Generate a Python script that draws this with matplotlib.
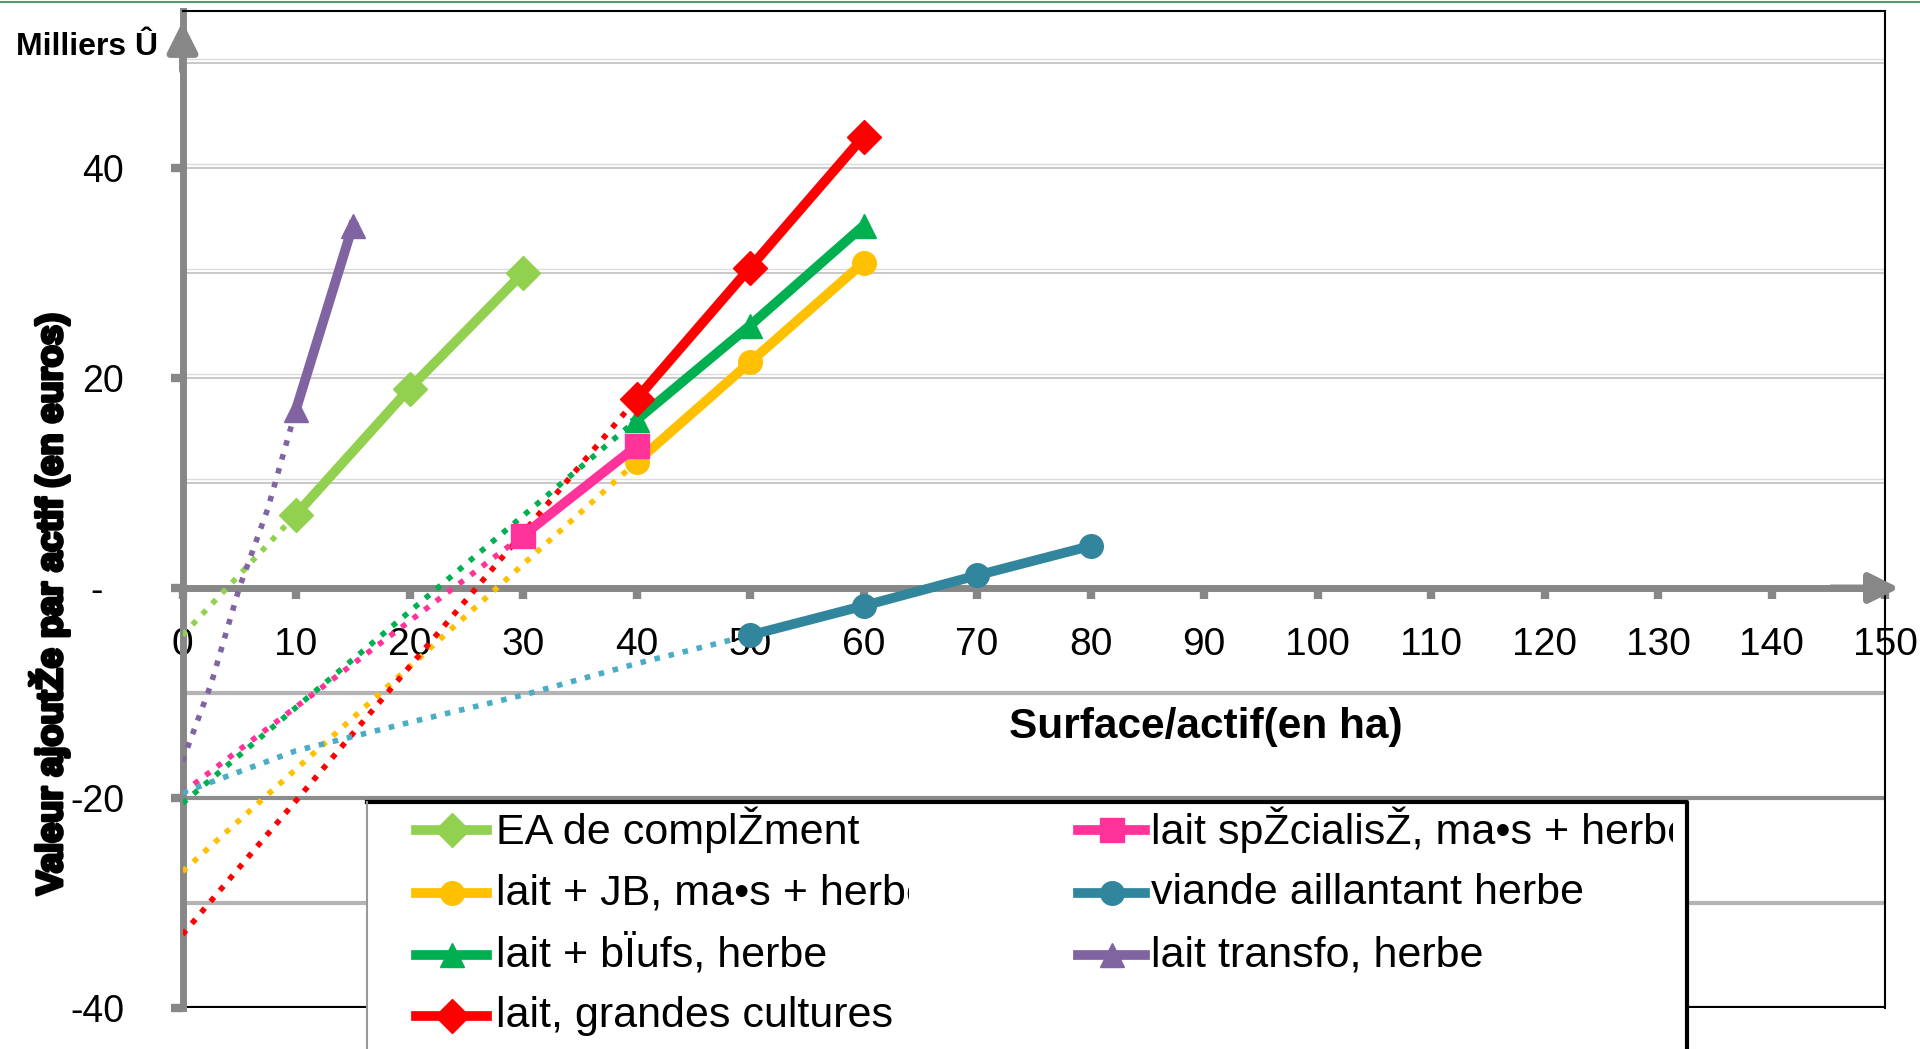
import matplotlib
matplotlib.use("Agg")
import matplotlib.pyplot as plt
import matplotlib.patheffects as pe
from matplotlib.lines import Line2D
from matplotlib.patches import Rectangle
from matplotlib.transforms import Bbox

plt.rcParams['font.family'] = ['Liberation Sans', 'DejaVu Sans']

# series labels (as they appear, with the broken encoding)
labels = ["EA de complŽment", "lait + JB, ma•s + herbe", "lait + bÏufs, herbe",
          "lait, grandes cultures", "lait spŽcialisŽ, ma•s + herbe",
          "viande aillantant herbe", "lait transfo, herbe"]
colors = ['#92D050', '#FFC000', '#00B050', '#FF0000', '#FF3399', '#31859C', '#8064A2']
trend_colors = ['#92D050', '#FFC000', '#00B050', '#FF0000', '#FF3399', '#4BACC6', '#8064A2']
markers = ['D', 'o', '^', 'D', 's', 'o', '^']

# surface par actif (ha) / valeur ajoutee (milliers)
x_ea = [10, 20, 30]
y_ea = [7, 19, 30]
x_jb = [40, 50, 60]
y_jb = [12, 21.5, 31]
x_boeufs = [40, 50, 60]
y_boeufs = [16, 25, 34.5]
x_gc = [40, 50, 60]
y_gc = [18, 30.5, 43]
x_spec = [30, 40]
y_spec = [5, 13.5]
x_viande = [50, 60, 70, 80]
y_viande = [-4.5, -1.7, 1.2, 4]
x_transfo = [10, 15]
y_transfo = [17, 34.5]

# dotted trend lines back to zero
tr_x_ea = [0, 10]
tr_y_ea = [-4.5, 7]
tr_x_jb = [0, 40]
tr_y_jb = [-27, 12]
tr_x_boeufs = [0, 40]
tr_y_boeufs = [-20.5, 16]
tr_x_gc = [0, 40]
tr_y_gc = [-33, 18]
tr_x_spec = [0, 30]
tr_y_spec = [-19.5, 5]
tr_x_viande = [0, 10, 20, 30, 40, 50]
tr_y_viande = [-19.5, -15.5, -12.8, -10.2, -7.2, -4.5]
tr_x_transfo = [0, 2.5, 5, 7.5, 10]
tr_y_transfo = [-16.5, -9.2, 0, 7.5, 17]

xticks = list(range(0, 151, 10))
yticks = [-40, -20, 0, 20, 40]
ytick_labels = ['-40', '-20', '-  ', '20', '40']
grid_levels = [-30, -20, -10, 10, 20, 30, 40, 50]

solid = [(x_ea, y_ea), (x_jb, y_jb), (x_boeufs, y_boeufs), (x_gc, y_gc),
         (x_spec, y_spec), (x_viande, y_viande), (x_transfo, y_transfo)]
trends = [(tr_x_ea, tr_y_ea), (tr_x_jb, tr_y_jb), (tr_x_boeufs, tr_y_boeufs), (tr_x_gc, tr_y_gc),
          (tr_x_spec, tr_y_spec), (tr_x_viande, tr_y_viande), (tr_x_transfo, tr_y_transfo)]

fig = plt.figure(figsize=(19.2, 10.49), dpi=100)
W, H = 1920, 1049
ax = fig.add_axes([182.5 / W, 1 - 1008 / H, 1702.5 / W, 997.5 / H])
ax.set_xlim(0, 150)
ax.set_ylim(-40, 55)

# gridlines
for g in grid_levels:
    if g < 0:
        c = '#8c8c8c' if g == -20 else '#b4b4b4'
        ax.axhline(g, color=c, lw=3, zorder=1)
    else:
        ax.axhline(g, color='#c4c4c4', lw=1.3, zorder=1)
        ax.axhline(g + 0.35, color='#dcdcdc', lw=1.0, zorder=1)
ax.axhline(-40, color='black', lw=3, zorder=1)

# dotted trends
for (tx, ty), c in zip(trends, trend_colors):
    ax.plot(tx, ty, color=c, lw=4, linestyle=(0, (1, 1.6)), zorder=3)

# solid series
for (sx, sy), c, m in zip(solid, colors, markers):
    ax.plot(sx, sy, color=c, lw=7, marker=m, markersize=17, zorder=4)

# axes as gray arrows
gray = '#878787'
for s in ['top', 'right']:
    ax.spines[s].set_color('black')
    ax.spines[s].set_linewidth(1.5)
ax.spines['bottom'].set_position(('data', 0))
ax.spines['bottom'].set_color(gray)
ax.spines['bottom'].set_linewidth(5)
ax.spines['left'].set_color(gray)
ax.spines['left'].set_linewidth(5)
ax.annotate('', xy=(151.5, 0), xytext=(145, 0), annotation_clip=False,
            arrowprops=dict(arrowstyle='-|>', color=gray, lw=5, mutation_scale=45))
ax.annotate('', xy=(0, 54.2), xytext=(0, 49), annotation_clip=False,
            arrowprops=dict(arrowstyle='-|>', color=gray, lw=5, mutation_scale=45))

ax.set_xticks(xticks)
ax.set_xticklabels([str(v) for v in xticks])
ax.set_yticks(yticks)
ax.set_yticklabels(ytick_labels)
ax.tick_params(axis='x', length=8, width=6, color=gray, pad=20, labelsize=28)
ax.tick_params(axis='y', length=9, width=6, color=gray, pad=33, labelsize=27)

fig.text(1206 / W, 1 - 727 / H, "Surface/actif(en ha)", fontsize=30.5, fontweight='bold',
         ha='center', va='center')
fig.text(16 / W, 1 - 55 / H, "Milliers Û", fontsize=23, fontweight='bold', ha='left', va='baseline')
fig.text(49 / W, 1 - 604 / H, "Valeur ajoutŽe par actif (en euros)", fontsize=26,
         fontweight='bold', rotation=90, ha='center', va='center',
         path_effects=[pe.withStroke(linewidth=2.5, foreground='black')])

# top border line of the picture
fig.add_artist(Line2D([0, 1], [0.9985, 0.9985], color='#5a9a6a', lw=1.5))

# legend box (drawn by hand, text overflows as in the original)
fig.add_artist(Rectangle((367 / W, -0.05), (1687 - 367) / W, 1 - 802 / H + 0.05,
                         transform=fig.transFigure, facecolor='white', edgecolor='none', zorder=5))
fig.add_artist(Line2D([367 / W, 1687 / W, 1687 / W], [1 - 802 / H, 1 - 802 / H, 0],
                      color='black', lw=3, zorder=6))
fig.add_artist(Line2D([367 / W, 367 / W], [1 - 802 / H, 0], color='#999999', lw=1.5, zorder=6))
row_y = [830, 893, 955, 1016]
col_x = [(416, 487, 496, 909), (1078, 1145, 1151, 1673)]
for i, (lab, c, m) in enumerate(zip(labels, colors, markers)):
    col = 0 if i < 4 else 1
    row = i if i < 4 else i - 4
    x1, x2, xt, xclip = col_x[col]
    yy = 1 - row_y[row] / H
    fig.add_artist(Line2D([x1 / W, (x1 + x2) / 2 / W, x2 / W], [yy, yy, yy], color=c, lw=7,
                          marker=m, markersize=17, markevery=[1], zorder=6))
    t = fig.text(xt / W, yy, lab, fontsize=31, ha='left', va='center', zorder=6)
    t.set_clip_box(Bbox.from_extents(0, 0, xclip, H))
    t.set_clip_on(True)

fig.savefig("out.png", dpi=100)
